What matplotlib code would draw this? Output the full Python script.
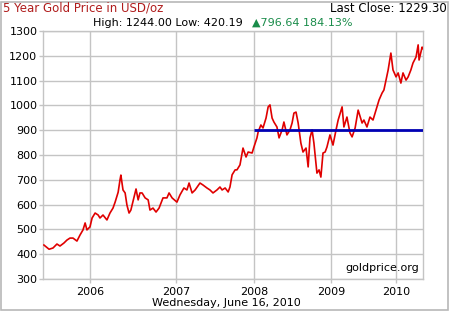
import matplotlib
matplotlib.use("Agg")
import matplotlib.pyplot as plt
from matplotlib.patches import Rectangle

# trading-day index since start of the 5-year window
days = [3, 10, 20, 33, 46, 56, 69, 79, 89, 99, 112, 122, 132, 139, 145, 155, 162, 172, 182, 188,
        198, 211, 221, 231, 238, 248, 254, 257, 264, 271, 277, 284, 290, 300, 307, 314, 320, 327,
        337, 347, 353, 363, 373, 383, 396, 409, 416, 426, 442, 452, 465, 475, 482, 492, 502, 518,
        528, 541, 551, 561, 574, 584, 591, 601, 611, 617, 624, 634, 640, 650, 660, 670, 677, 690,
        696, 706, 710, 719, 726, 736, 743, 749, 756, 762, 772, 779, 789, 795, 805, 815, 822, 828,
        835, 842, 851, 858, 868, 875, 881, 888, 894, 904, 911, 917, 924, 931, 937, 947, 957, 967,
        974, 987, 993, 1003, 1013, 1020, 1030, 1040, 1053, 1059, 1069, 1079, 1089, 1102, 1109,
        1119, 1125, 1132, 1139, 1148, 1155, 1165, 1172, 1181, 1188, 1198, 1205, 1214, 1221, 1231,
        1238, 1241, 1251, 1254]
prices = [437, 430, 420, 425, 441, 433, 445, 457, 465, 465, 453, 477, 498, 526, 498, 510, 546, 566,
          558, 546, 558, 538, 566, 586, 610, 650, 699, 719, 659, 647, 598, 566, 578, 627, 663, 619,
          647, 647, 627, 619, 578, 586, 570, 586, 627, 627, 647, 627, 610, 639, 667, 659, 687, 647,
          659, 687, 679, 667, 659, 647, 659, 671, 659, 667, 651, 671, 720, 740, 740, 760, 828, 792,
          812, 808, 832, 869, 893, 921, 909, 949, 994, 1002, 949, 933, 913, 869, 901, 933, 881, 901,
          929, 969, 973, 929, 848, 812, 828, 752, 869, 901, 848, 727, 740, 711, 808, 812, 832, 881,
          840, 901, 941, 994, 913, 953, 889, 873, 909, 981, 929, 941, 913, 953, 941, 994, 1022,
          1050, 1062, 1102, 1143, 1211, 1143, 1115, 1131, 1090, 1131, 1102, 1115, 1143, 1171, 1195,
          1244, 1183, 1235, 1229]

year_ticks = [155, 439, 696, 950, 1165]
year_labels = ["2006", "2007", "2008", "2009", "2010"]
y_ticks = list(range(300, 1301, 100))
ref_level = 900
ref_start = 696
x_end = 1254

fig = plt.figure(figsize=(4.5, 3.11), dpi=100)
fig.patch.set_facecolor("white")
ax = fig.add_axes([43/450, 32/311, 380/450, 248/311])

grid_c = "#c4c4c4"
ax.set_xlim(0, x_end)
ax.set_ylim(300, 1300)
ax.set_yticks(y_ticks)
ax.set_xticks(year_ticks)
ax.set_xticklabels(year_labels)
ax.grid(True, color=grid_c, linewidth=1.0)
ax.set_axisbelow(True)
for s in ax.spines.values():
    s.set_color(grid_c)
    s.set_linewidth(1.0)
ax.tick_params(axis="both", colors=grid_c, length=3, width=1, labelsize=8, labelcolor="black", pad=1)
ax.tick_params(axis="x", pad=3)

ax.plot(days, prices, color="#e00000", linewidth=1.2, zorder=3)
ax.hlines(ref_level, ref_start, x_end, color="#0000b4", linewidth=2.0, zorder=4)

ax.text(0.99, 0.025, "goldprice.org", transform=ax.transAxes, ha="right", va="bottom",
        fontsize=8, color="black")

fig.text(3/450, 1 - 8/311, "5 Year Gold Price in USD/oz", ha="left", va="center",
         fontsize=8.5, color="#b01c1c")
fig.text(447/450, 1 - 8/311, "Last Close: 1229.30", ha="right", va="center",
         fontsize=8.5, color="black")
fig.text(93/450, 1 - 23/311, "High: 1244.00 Low: 420.19", ha="left", va="center",
         fontsize=8, color="black")
fig.text(252/450, 1 - 23/311, "\u25b2796.64 184.13%", ha="left", va="center",
         fontsize=8, color="#1a8c4a")
fig.text(226/450, 1 - 303/311, "Wednesday, June 16, 2010", ha="center", va="center",
         fontsize=8, color="black")

fig.add_artist(Rectangle((1/450, 1/311), 447/450, 308/311, transform=fig.transFigure,
                         fill=False, edgecolor="#b8b8b8", linewidth=1.2))

fig.savefig("out.png", dpi=100)
